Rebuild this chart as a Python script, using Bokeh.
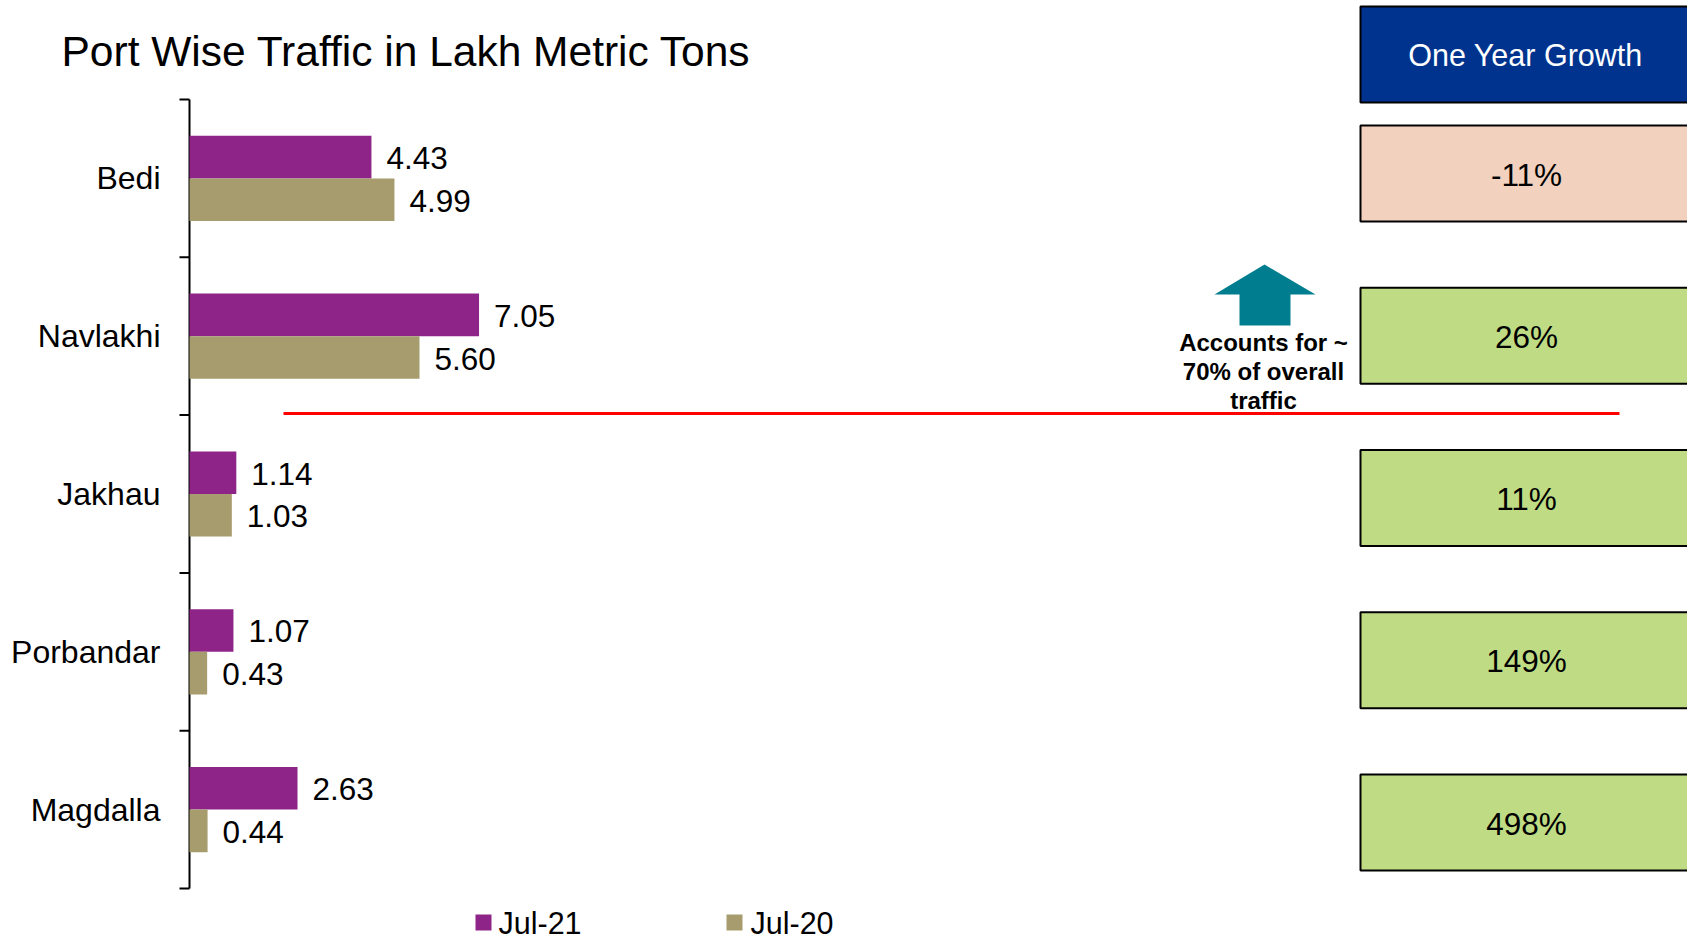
import numpy as np
from bokeh.plotting import figure
from bokeh.models import Range1d, ColumnDataSource
from bokeh.core.properties import value
from bokeh.embed import file_html
from bokeh.resources import INLINE

# ---------------- data ----------------
ports = ["Bedi", "Navlakhi", "Jakhau", "Porbandar", "Magdalla"]
jul21 = [4.43, 7.05, 1.14, 1.07, 2.63]
jul20 = [4.99, 5.60, 1.03, 0.43, 0.44]
series_names = ["Jul-21", "Jul-20"]
title_text = "Port Wise Traffic in Lakh Metric Tons"
header_text = "One Year Growth"
note_lines = ["Accounts for ~", "70% of overall", "traffic"]

# ---------------- styling / layout ----------------
C21 = "#8E2487"
C20 = "#A69C6D"
BLUE = "#00338E"
PEACH = "#F2D2BE"
GREEN = "#BFDC84"
TEAL = "#007E8F"
FONT = "Liberation Sans"

W, H = 1687, 941
PX_X0, PX_PER_X = 189.0, 41.07      # px of value 0, px per unit
PX_Y0, PX_PER_Y = 99.0, 157.8       # px of first category boundary, px per category


def dx(px):
    return (np.asarray(px, dtype=float) - PX_X0) / PX_PER_X


def dy(py):
    return (np.asarray(py, dtype=float) - PX_Y0) / PX_PER_Y


x_range = Range1d(float(dx(0)), float(dx(W)))
y_range = Range1d(float(dy(H)), float(dy(0)))

p = figure(width=W, height=H, x_range=x_range, y_range=y_range,
           output_backend="svg", toolbar_location=None,
           x_axis_location=None, y_axis_location=None,
           min_border_left=0, min_border_right=0,
           min_border_top=0, min_border_bottom=0)
p.outline_line_color = None
p.background_fill_color = "white"
p.border_fill_color = "white"
for r in list(p.center):
    r.visible = False

n = len(ports)
idx = np.arange(n)

# ---------------- category axis (line, boundary ticks, labels) ----------------
p.segment(x0=0, y0=0, x1=0, y1=n, line_color="black", line_width=2)
bounds = np.arange(n + 1)
p.segment(x0=np.zeros(n + 1), y0=bounds, x1=np.full(n + 1, -10 / PX_PER_X), y1=bounds,
          line_color="black", line_width=2)
p.text(x=np.zeros(n), y=idx + 0.5, text=ports, x_offset=-29,
       text_align="right", text_baseline="middle",
       text_font=value(FONT), text_font_size="32px", text_color="black")

# ---------------- bars ----------------
off, bh = 0.135, 0.27
src = ColumnDataSource(dict(
    port=ports, jul21=jul21, jul20=jul20,
    y21=idx + 0.5 - off, y20=idx + 0.5 + off,
    lab21=[f"{v:.2f}" for v in jul21], lab20=[f"{v:.2f}" for v in jul20],
))
p.hbar(y="y21", left=0, right="jul21", height=bh, source=src,
       fill_color=C21, line_color=None)
p.hbar(y="y20", left=0, right="jul20", height=bh, source=src,
       fill_color=C20, line_color=None)
for xf, yf, tf in (("jul21", "y21", "lab21"), ("jul20", "y20", "lab20")):
    p.text(x=xf, y=yf, text=tf, source=src, x_offset=15, y_offset=1,
           text_baseline="middle", text_align="left",
           text_font=value(FONT), text_font_size="31.5px", text_color="black")

# ---------------- growth boxes ----------------
growth = [(a / b - 1.0) * 100.0 for a, b in zip(jul21, jul20)]
growth_txt = [f"{g:.0f}%" for g in growth]
growth_col = [PEACH if g < 0 else GREEN for g in growth]

box_left, box_right = dx(1360), dx(1720)
p.quad(left=box_left, right=box_right, top=dy(6), bottom=dy(102),
       fill_color=BLUE, line_color="black", line_width=2)
p.text(x=[dx(1525)], y=[dy(54)], text=[header_text],
       text_align="center", text_baseline="middle",
       text_font=value(FONT), text_font_size="30.5px", text_color="white")

tops_px = 125 + idx * 162.25
bots_px = tops_px + 96
cent_px = (tops_px + bots_px) / 2
bsrc = ColumnDataSource(dict(top=dy(tops_px), bottom=dy(bots_px),
                             yc=dy(cent_px + 1), txt=growth_txt, col=growth_col))
p.quad(left=box_left, right=box_right, top="top", bottom="bottom", source=bsrc,
       fill_color="col", line_color="black", line_width=2)
p.text(x=dx(1526), y="yc", text="txt", source=bsrc,
       text_align="center", text_baseline="middle",
       text_font=value(FONT), text_font_size="31.5px", text_color="black")

# ---------------- arrow + note ----------------
ax_px = [1264, 1315, 1290, 1290, 1239, 1239, 1214]
ay_px = [264, 294, 294, 325, 325, 294, 294]
p.patch(x=dx(ax_px), y=dy(ay_px), fill_color=TEAL, line_color=None)
p.text(x=dx([1263] * 3), y=dy([342, 371, 400]), text=note_lines,
       text_align="center", text_baseline="middle",
       text_font=value(FONT), text_font_size="24px", text_font_style="bold",
       text_color="black")

# red separator
p.segment(x0=dx(283), x1=dx(1619), y0=dy(413), y1=dy(413),
          line_color="#FF0000", line_width=3)

# ---------------- title ----------------
p.text(x=[dx(61)], y=[dy(51)], text=[title_text],
       text_align="left", text_baseline="middle",
       text_font=value(FONT), text_font_size="42.5px", text_color="black")

# ---------------- legend ----------------
leg_sq_x = dx([483, 734])
leg_tx_x = dx([498, 750])
leg_y = dy(922)
p.scatter(x=leg_sq_x, y=[leg_y, leg_y], marker="square", size=16,
          fill_color=[C21, C20], line_color=None)
p.text(x=leg_tx_x, y=[leg_y, leg_y], text=series_names,
       text_align="left", text_baseline="middle",
       text_font=value(FONT), text_font_size="30.5px", text_color="black")

open("out.html", "w").write(file_html(p, INLINE))
